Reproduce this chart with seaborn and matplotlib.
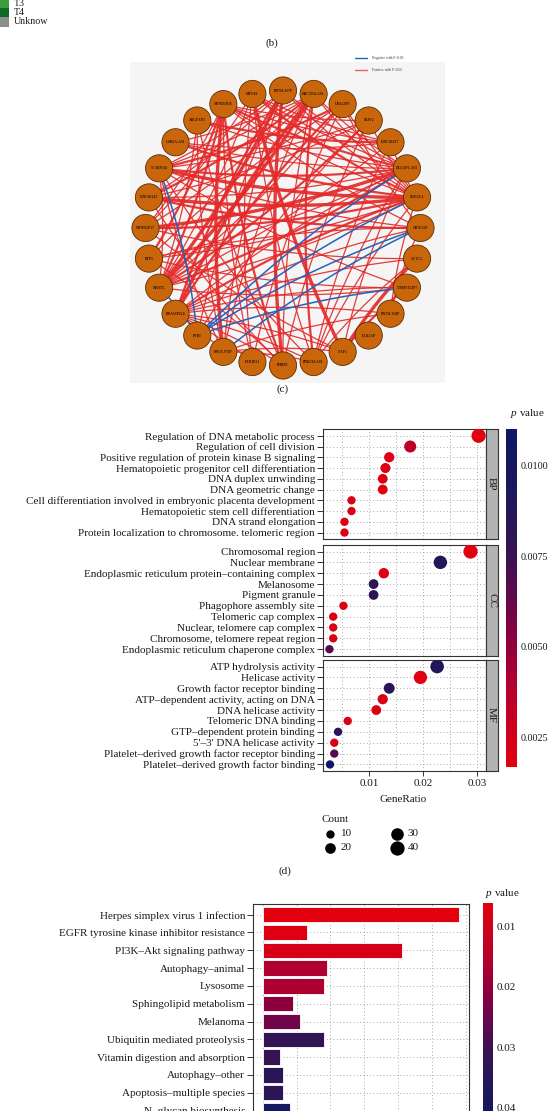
import numpy as np
import pandas as pd
import matplotlib
matplotlib.use("Agg")
import matplotlib.pyplot as plt
import seaborn as sns
from matplotlib.colors import LinearSegmentedColormap, Normalize
from matplotlib.patches import Circle, Rectangle
from matplotlib.cm import ScalarMappable

W, H = 550, 1111

# (b) legend fragment left over from the panel above
stage_labels = ["T3", "T4", "Unknow"]
stage_colors = ["#3c9c3c", "#0e6a27", "#8b908d"]

# (c) co-expression network
genes = ["RN7SL117P", "KRCTD4-AS1", "UBA52P9", "SKIV2", "LINC02427", "DLGAP1-AS2",
         "SHOGL1", "OR7E35P", "ACTC1", "TRMT112P7", "RN7SL358P", "ELK2AP", "TAF5",
         "PRKCH-AS1", "PHBP6", "FTH1P21", "RNU6-978P", "FYB1", "RNA5SP224", "MASTL",
         "RTP5", "MTND2P17", "LINC02141", "SCARNA8", "USH2A-AS1", "ARGFXP2",
         "MTND5P26", "MYO16"]
# (source, target, weight)
pos_edges = [
    (19, 0, 3), (19, 1, 3), (19, 2, 1), (19, 4, 1), (19, 5, 2), (19, 6, 1), (19, 26, 2),
    (19, 27, 1), (19, 25, 1), (19, 23, 1), (19, 9, 1), (19, 3, 2),
    (23, 5, 2), (23, 6, 3), (23, 7, 1), (23, 1, 1), (23, 2, 2), (23, 0, 1), (23, 3, 1),
    (23, 13, 1), (23, 16, 1), (23, 9, 1),
    (22, 6, 3), (22, 5, 1), (22, 7, 2), (22, 0, 1), (22, 1, 2), (22, 3, 1), (22, 14, 1),
    (21, 6, 2), (21, 5, 3), (21, 26, 1), (21, 27, 1), (21, 1, 1), (21, 8, 1), (21, 12, 1),
    (20, 5, 1), (20, 6, 1), (20, 26, 2), (20, 9, 1),
    (24, 5, 1), (24, 6, 2), (24, 4, 1), (24, 1, 1),
    (25, 5, 1), (25, 4, 2), (25, 16, 1), (25, 14, 1),
    (26, 5, 2), (26, 6, 1), (26, 7, 1), (26, 4, 1), (26, 3, 1), (26, 14, 2), (26, 15, 1),
    (26, 16, 3),
    (27, 5, 1), (27, 6, 2), (27, 4, 1), (27, 13, 1), (27, 12, 3), (27, 15, 1),
    (0, 5, 1), (0, 6, 1), (0, 14, 3), (0, 16, 1), (0, 18, 2), (0, 17, 1),
    (1, 5, 1), (1, 6, 1), (1, 13, 2), (1, 14, 1), (1, 18, 3), (1, 16, 1),
    (2, 6, 1), (2, 7, 1), (2, 15, 1), (2, 18, 2), (2, 20, 1),
    (3, 6, 1), (3, 14, 1), (3, 17, 1),
    (4, 6, 1), (4, 13, 1),
    (5, 13, 1), (5, 12, 1), (5, 18, 1),
    (6, 18, 2), (6, 10, 1), (6, 13, 1),
    (7, 18, 1), (7, 20, 1), (7, 10, 1),
    (8, 12, 3), (8, 13, 1), (8, 18, 1),
    (9, 12, 2), (9, 18, 1),
    (10, 18, 1), (10, 16, 1),
    (12, 16, 1), (12, 18, 1), (13, 16, 1), (13, 18, 1),
    (14, 18, 1), (14, 20, 1), (15, 18, 1), (16, 18, 1),
]
neg_edges = [(17, 5, 1), (17, 6, 1), (17, 7, 1), (17, 9, 1), (16, 7, 1), (23, 17, 1), (19, 17, 1)]
net_legend = ["Negative with P<0.05", "Positive with P<0.05"]

# (d) GO enrichment
bp_terms = ["Regulation of DNA metabolic process", "Regulation of cell division",
            "Positive regulation of protein kinase B signaling",
            "Hematopoietic progenitor cell differentiation", "DNA duplex unwinding",
            "DNA geometric change",
            "Cell differentiation involved in embryonic placenta development",
            "Hematopoietic stem cell differentiation", "DNA strand elongation",
            "Protein localization to chromosome. telomeric region"]
bp_ratio = [0.0303, 0.0176, 0.0137, 0.0130, 0.0125, 0.0125, 0.0067, 0.0067, 0.0054, 0.0054]
bp_count = [40, 27, 18, 17, 16, 16, 9, 9, 7, 7]
bp_p = [0.0017, 0.0035, 0.0019, 0.0020, 0.0020, 0.0019, 0.0021, 0.0021, 0.0020, 0.0020]

cc_terms = ["Chromosomal region", "Nuclear membrane",
            "Endoplasmic reticulum protein\u2013containing complex", "Melanosome",
            "Pigment granule", "Phagophore assembly site", "Telomeric cap complex",
            "Nuclear, telomere cap complex", "Chromosome, telomere repeat region",
            "Endoplasmic reticulum chaperone complex"]
cc_ratio = [0.0288, 0.0232, 0.0127, 0.0108, 0.0108, 0.0052, 0.0033, 0.0033, 0.0033, 0.0026]
cc_count = [40, 35, 19, 16, 16, 8, 5, 5, 5, 4]
cc_p = [0.0018, 0.0088, 0.0020, 0.0080, 0.0081, 0.0021, 0.0020, 0.0020, 0.0021, 0.0068]

mf_terms = ["ATP hydrolysis activity", "Helicase activity", "Growth factor receptor binding",
            "ATP\u2013dependent activity, acting on DNA", "DNA helicase activity",
            "Telomeric DNA binding", "GTP\u2013dependent protein binding",
            "5'\u20133' DNA helicase activity",
            "Platelet\u2013derived growth factor receptor binding",
            "Platelet\u2013derived growth factor binding"]
mf_ratio = [0.0226, 0.0195, 0.0137, 0.0125, 0.0113, 0.0060, 0.0042, 0.0035, 0.0035, 0.0027]
mf_count = [36, 34, 21, 18, 16, 9, 7, 6, 5, 3]
mf_p = [0.0090, 0.0019, 0.0082, 0.0021, 0.0020, 0.0021, 0.0083, 0.0021, 0.0068, 0.0110]

go_ticks = [0.01, 0.02, 0.03]
go_pticks = [0.0025, 0.0050, 0.0075, 0.0100]
legend_counts = [10, 20, 30, 40]

# (e) KEGG enrichment
kegg_terms = ["Herpes simplex virus 1 infection", "EGFR tyrosine kinase inhibitor resistance",
              "PI3K\u2013Akt signaling pathway", "Autophagy\u2013animal", "Lysosome",
              "Sphingolipid metabolism", "Melanoma", "Ubiquitin mediated proteolysis",
              "Vitamin digestion and absorption", "Autophagy\u2013other",
              "Apoptosis\u2013multiple species", "N\u2013glycan biosynthesis"]
kegg_ratio = [0.058, 0.013, 0.041, 0.019, 0.018, 0.009, 0.011, 0.018, 0.005, 0.006, 0.006, 0.008]
kegg_p = [0.0063, 0.0072, 0.0090, 0.0160, 0.0165, 0.0210, 0.0240, 0.0320, 0.0310,
          0.0340, 0.0335, 0.0410]
kegg_pticks = [0.01, 0.02, 0.03, 0.04]

sns.set_theme(style="white")
plt.rcParams["font.family"] = ["Liberation Serif", "DejaVu Serif"]
plt.rcParams["mathtext.fontset"] = "custom"
plt.rcParams["mathtext.it"] = "Liberation Serif:italic"
plt.rcParams["mathtext.rm"] = "Liberation Serif"
TXT = "#1a1a1a"
FS = 8.0
CB_FS = 7.3

pcmap = LinearSegmentedColormap.from_list(
    "pv", [(0, "#e3000f"), (0.25, "#b0002f"), (0.4, "#85003f"), (0.5, "#62084c"),
           (0.65, "#331452"), (0.8, "#1e175c"), (1.0, "#0d1866")])


def box(x0, y0, x1, y1):
    return [x0 / W, 1 - y1 / H, (x1 - x0) / W, (y1 - y0) / H]


def size_of(c):
    return 36 + (c - 10) * (105 - 36) / 30


fig = plt.figure(figsize=(W / 100, H / 100), dpi=100)

# overlay in pixel coordinates for loose text
ov = fig.add_axes([0, 0, 1, 1])
ov.set_xlim(0, W)
ov.set_ylim(H, 0)
ov.axis("off")

for i, (lab, col) in enumerate(zip(stage_labels, stage_colors)):
    ov.add_patch(Rectangle((0, -1 + i * 9.2), 9, 9.2, color=col, lw=0))
    ov.text(14, 3.2 + i * 9.4, lab, fontsize=7.2, va="center", color=TXT)
ov.text(272, 43, "(b)", fontsize=FS, ha="center", va="center", color=TXT)
ov.text(283, 389, "(c)", fontsize=FS, ha="center", va="center", color=TXT)
ov.text(285, 871, "(d)", fontsize=FS, ha="center", va="center", color=TXT)

# ---------------- (c) network ----------------
net = fig.add_axes(box(120, 50, 460, 395))
net.set_xlim(120, 460)
net.set_ylim(395, 50)
net.axis("off")
net.add_patch(Rectangle((130, 62), 315, 321, color="#f5f5f5", lw=0, zorder=0))

cx, cy, R, r_node = 283, 228, 137.5, 13.6
ang = np.deg2rad(90 - np.arange(len(genes)) * 360 / len(genes))
pos = np.column_stack([cx + R * np.cos(ang), cy - R * np.sin(ang)])


def bezier(p0, p1, bend=0.06):
    mid = (p0 + p1) / 2
    d = p1 - p0
    c = mid + bend * np.array([-d[1], d[0]])
    t = np.linspace(0, 1, 40)[:, None]
    return (1 - t) ** 2 * p0 + 2 * (1 - t) * t * c + t ** 2 * p1


lw_map = {1: 0.9, 2: 1.6, 3: 2.4}
for a, b, w in pos_edges:
    pts = bezier(pos[a], pos[b])
    net.plot(pts[:, 0], pts[:, 1], color="#e42a2a", lw=lw_map[w], alpha=0.92,
             solid_capstyle="round", zorder=1)
for a, b, w in neg_edges:
    pts = bezier(pos[a], pos[b], bend=-0.06)
    net.plot(pts[:, 0], pts[:, 1], color="#2462bb", lw=1.1, zorder=2)

for (x, y), g in zip(pos, genes):
    net.add_patch(Circle((x, y), r_node, fc="#c9660b", ec="#5a2d00", lw=0.6, zorder=3))
    net.text(x, y, g, fontsize=2.6, ha="center", va="center", color="#2a1400",
             fontweight="bold", zorder=4)

for k, (lab, col) in enumerate(zip(net_legend, ["#2462bb", "#e86060"])):
    yy = 58 + k * 12
    net.plot([355, 367], [yy, yy], color=col, lw=1.0)
    net.text(372, yy, lab, fontsize=2.6, va="center", color="#333333")

# ---------------- (d) GO dot plot ----------------
go_norm = Normalize(0.0017, 0.0110)
xl = (0.00135, 0.0316)
panels = [("BP", bp_terms, bp_ratio, bp_count, bp_p, 429.3, 539.0),
          ("CC", cc_terms, cc_ratio, cc_count, cc_p, 545.0, 655.7),
          ("MF", mf_terms, mf_ratio, mf_count, mf_p, 660.0, 771.0)]
for name, terms, ratio, count, pv, top, bot in panels:
    ax = fig.add_axes(box(322.7, top, 485.6, bot))
    df = pd.DataFrame({"Term": terms, "GeneRatio": ratio, "Count": count, "p": pv})
    sns.scatterplot(data=df, x="GeneRatio", y="Term", hue="p", size="Count",
                    palette=pcmap, hue_norm=go_norm, sizes=(36, 105), size_norm=(10, 40),
                    linewidth=0, legend=False, ax=ax, zorder=3)
    ax.set_xlim(*xl)
    ax.set_ylim(len(terms) - 1 + 0.6, -0.6)
    ax.set_xticks(go_ticks)
    ax.set_xticks([0.005, 0.015, 0.025], minor=True)
    ax.set_axisbelow(True)
    ax.grid(True, which="both", axis="both", linestyle=(0, (1, 3)), color="#8c8c8c", lw=0.6)
    ax.set_xlabel("")
    ax.set_ylabel("")
    for s in ax.spines.values():
        s.set_color("#333333")
        s.set_linewidth(0.8)
    ax.tick_params(axis="y", length=4, width=0.7, color="#333333", pad=1.5,
                   labelsize=FS, labelcolor=TXT, left=True)
    ax.tick_params(axis="x", which="minor", length=0)
    if name == "MF":
        ax.set_xticklabels([f"{t:.2f}" for t in go_ticks])
        ax.tick_params(axis="x", length=3.5, width=0.7, color="#333333", pad=2,
                       labelsize=FS, labelcolor=TXT, bottom=True)
    else:
        ax.tick_params(axis="x", length=0, labelbottom=False)
    st = fig.add_axes(box(485.6, top, 497.7, bot))
    st.set_facecolor("#b3b3b3")
    st.set_xticks([])
    st.set_yticks([])
    for s in st.spines.values():
        s.set_color("#333333")
        s.set_linewidth(0.8)
    st.text(0.5, 0.5, name, rotation=-90, ha="center", va="center", fontsize=FS,
            color=TXT, transform=st.transAxes)

ov.text(403, 799, "GeneRatio", fontsize=FS, ha="center", va="center", color=TXT)
ov.text(510, 413, r"$p$ value", fontsize=FS, va="center", color=TXT)

cax = fig.add_axes(box(505.7, 429, 517, 766.7))
cb = fig.colorbar(ScalarMappable(norm=go_norm, cmap=pcmap), cax=cax)
cb.outline.set_visible(False)
cb.set_ticks(go_pticks)
cb.set_ticklabels([f"{t:.4f}" for t in go_pticks])
cax.tick_params(direction="in", left=True, right=True, length=3, width=0.7,
                color="white", labelsize=CB_FS, labelcolor=TXT, pad=2.5)

# Count size legend
ov.text(322, 819, "Count", fontsize=FS, va="center", color=TXT)
for k, c in enumerate(legend_counts):
    lx = 330 + (k // 2) * 67
    ly = 834 + (k % 2) * 13.5
    ov.scatter([lx], [ly], s=size_of(c), color="black", lw=0)
    ov.text(lx + 11, ly, str(c), fontsize=FS, va="center", color=TXT)

# ---------------- (e) KEGG bar plot ----------------
kegg_norm = Normalize(0.0062, 0.045)
bx = fig.add_axes(box(252.7, 904, 469, 1121.2))
kdf = pd.DataFrame({"term": kegg_terms, "ratio": kegg_ratio, "p": kegg_p})
bar_cols = [pcmap(kegg_norm(p)) for p in kegg_p]
sns.barplot(data=kdf, x="ratio", y="term", hue="term", palette=bar_cols, legend=False,
            saturation=1, width=0.86, edgecolor="white", linewidth=0.6, ax=bx, zorder=3)
bx.set_xlim(-0.0029, 0.0608)
bx.set_ylim(len(kegg_terms) - 1 + 0.6, -0.6)
bx.set_xticks([0.0, 0.02, 0.04, 0.06])
bx.set_xticks([0.01, 0.03, 0.05], minor=True)
bx.set_axisbelow(True)
bx.grid(True, which="both", axis="both", linestyle=(0, (1, 3)), color="#8c8c8c", lw=0.6)
bx.set_xlabel("")
bx.set_ylabel("")
for s in bx.spines.values():
    s.set_color("#333333")
    s.set_linewidth(0.8)
bx.tick_params(axis="y", length=4, width=0.7, color="#333333", pad=1.5,
               labelsize=FS, labelcolor=TXT, left=True)
bx.tick_params(axis="x", labelbottom=False, length=0, which="both")

ov.text(485, 894, r"$p$ value", fontsize=FS, va="center", color=TXT)
cax2 = fig.add_axes(box(483.3, 903.3, 492.7, 1138))
cb2 = fig.colorbar(ScalarMappable(norm=kegg_norm, cmap=pcmap), cax=cax2)
cb2.outline.set_visible(False)
cb2.set_ticks(kegg_pticks)
cb2.set_ticklabels([f"{t:.2f}" for t in kegg_pticks])
cax2.invert_yaxis()
cax2.tick_params(direction="in", left=True, right=True, length=3, width=0.7,
                 color="white", labelsize=FS, labelcolor=TXT, pad=3)

fig.savefig("out.png", dpi=100, facecolor="white")
plt.close(fig)
